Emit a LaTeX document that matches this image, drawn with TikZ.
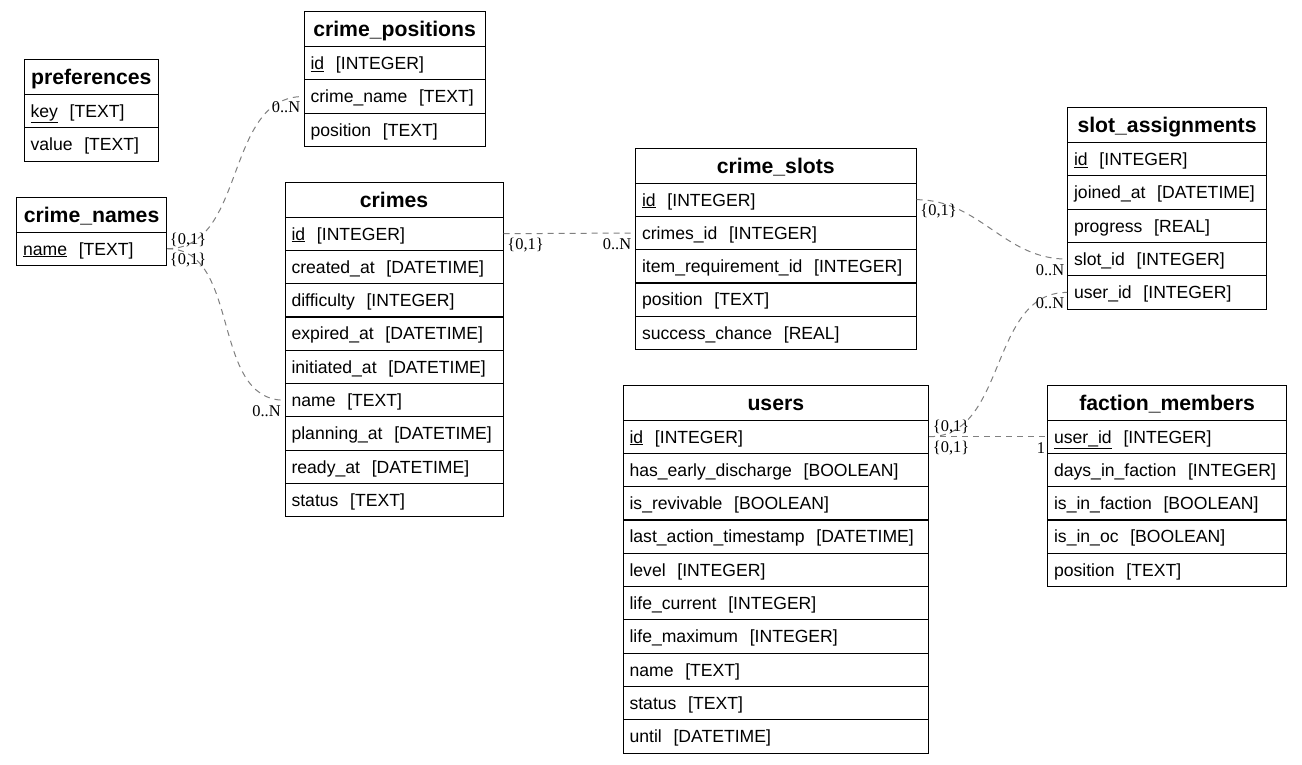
\documentclass[tikz,border=0pt]{standalone}
\usepackage{fontspec}
\setmainfont{Liberation Sans}
\newfontfamily\cardfont{Liberation Serif}
\usetikzlibrary{calc}

\tikzset{
  head/.style={draw, line width=1.1pt, anchor=north west, minimum height=35pt, inner sep=0pt,
    font=\fontsize{21.2}{24}\selectfont\bfseries, text height=15.2pt, text depth=0pt},
  field/.style={draw, line width=1.1pt, anchor=north west, minimum height=33.3pt,
    inner xsep=6.5pt, inner ysep=0pt, align=left,
    font=\fontsize{17.6}{20}\selectfont, text height=12.7pt, text depth=0pt},
  link/.style={draw=black!50, line width=1pt, dash pattern=on 6pt off 5pt},
  card/.style={font=\cardfont\fontsize{16.4}{18}\selectfont, inner sep=0pt}
}

\begin{document}
\begin{tikzpicture}[x=1pt,y=-1pt]
\fill[white] (0,0) rectangle (1302,764);

% preferences
\node[head, minimum width=134.5pt] (preferences) at (23.5,59) {preferences};
\foreach \t [count=\i] in {\underline{key}~~[TEXT], value~~[TEXT]}
  \node[field, text width=121.5pt] (preferences\i) at (23.5,{59+35+33.3*(\i-1)}) {\mbox{\t}};

% crime_positions
\node[head, minimum width=181pt] (positions) at (303.5,11) {crime\_positions};
\foreach \t [count=\i] in {\underline{id}~~[INTEGER], crime\_name~~[TEXT], position~~[TEXT]}
  \node[field, text width=168pt] (positions\i) at (303.5,{11+35+33.3*(\i-1)}) {\mbox{\t}};

% crime_names
\node[head, minimum width=150pt] (names) at (16,196.5) {crime\_names};
\foreach \t [count=\i] in {\underline{name}~~[TEXT]}
  \node[field, text width=137pt] (names\i) at (16,{196.5+35+33.3*(\i-1)}) {\mbox{\t}};

% crimes
\node[head, minimum width=218pt] (crimes) at (284.5,181.5) {crimes};
\foreach \t [count=\i] in {\underline{id}~~[INTEGER], created\_at~~[DATETIME], difficulty~~[INTEGER],
    expired\_at~~[DATETIME], initiated\_at~~[DATETIME], name~~[TEXT], planning\_at~~[DATETIME],
    ready\_at~~[DATETIME], status~~[TEXT]}
  \node[field, text width=205pt] (crimes\i) at (284.5,{181.5+35+33.3*(\i-1)}) {\mbox{\t}};

% crime_slots
\node[head, minimum width=280.5pt] (slots) at (635,147.5) {crime\_slots};
\foreach \t [count=\i] in {\underline{id}~~[INTEGER], crimes\_id~~[INTEGER],
    item\_requirement\_id~~[INTEGER], position~~[TEXT], success\_chance~~[REAL]}
  \node[field, text width=267.5pt] (slots\i) at (635,{147.5+35+33.3*(\i-1)}) {\mbox{\t}};

% slot_assignments
\node[head, minimum width=199pt] (assignments) at (1067,107) {slot\_assignments};
\foreach \t [count=\i] in {\underline{id}~~[INTEGER], joined\_at~~[DATETIME], progress~~[REAL],
    slot\_id~~[INTEGER], user\_id~~[INTEGER]}
  \node[field, text width=186pt] (assignments\i) at (1067,{107+35+33.3*(\i-1)}) {\mbox{\t}};

% users
\node[head, minimum width=305.5pt] (users) at (622.5,384.5) {users};
\foreach \t [count=\i] in {\underline{id}~~[INTEGER], has\_early\_discharge~~[BOOLEAN],
    is\_revivable~~[BOOLEAN], last\_action\_timestamp~~[DATETIME], level~~[INTEGER],
    life\_current~~[INTEGER], life\_maximum~~[INTEGER], name~~[TEXT], status~~[TEXT],
    until~~[DATETIME]}
  \node[field, text width=292.5pt] (users\i) at (622.5,{384.5+35+33.3*(\i-1)}) {\mbox{\t}};

% faction_members
\node[head, minimum width=239pt] (members) at (1047,384.5) {faction\_members};
\foreach \t [count=\i] in {\underline{user\_id}~~[INTEGER], days\_in\_faction~~[INTEGER],
    is\_in\_faction~~[BOOLEAN], is\_in\_oc~~[BOOLEAN], position~~[TEXT]}
  \node[field, text width=226pt] (members\i) at (1047,{384.5+35+33.3*(\i-1)}) {\mbox{\t}};

% links
\draw[link] (names1.east) to[out=0,in=180] (positions2.west);
\draw[link] (names1.east) to[out=0,in=180] (crimes6.west);
\draw[link] (crimes1.east) -- (slots2.west);
\draw[link] (slots1.east) to[out=0,in=180] (assignments4.west);
\draw[link] (users1.east) to[out=0,in=180] (assignments5.west);
\draw[link] (users1.east) -- (members1.west);

% cardinalities
\node[card] (card1t) at ($(names1.east)+(21,-8.5)$) {\{0,1\}};
\node[card] (card1h) at ($(positions2.west)+(-17.5,11)$) {0..N};
\node[card] (card2t) at ($(names1.east)+(21,11.5)$) {\{0,1\}};
\node[card] (card2h) at ($(crimes6.west)+(-18,11)$) {0..N};
\node[card] (card3t) at ($(crimes1.east)+(22,11)$) {\{0,1\}};
\node[card] (card3h) at ($(slots2.west)+(-18,11)$) {0..N};
\node[card] (card4t) at ($(slots1.east)+(22,11)$) {\{0,1\}};
\node[card] (card4h) at ($(assignments4.west)+(-17,11)$) {0..N};
\node[card] (card5t) at ($(users1.east)+(22,-10)$) {\{0,1\}};
\node[card] (card5h) at ($(assignments5.west)+(-17,11)$) {0..N};
\node[card] (card6t) at ($(users1.east)+(22,11)$) {\{0,1\}};
\node[card] (card6h) at ($(members1.west)+(-6,11)$) {1};
\end{tikzpicture}
\end{document}
